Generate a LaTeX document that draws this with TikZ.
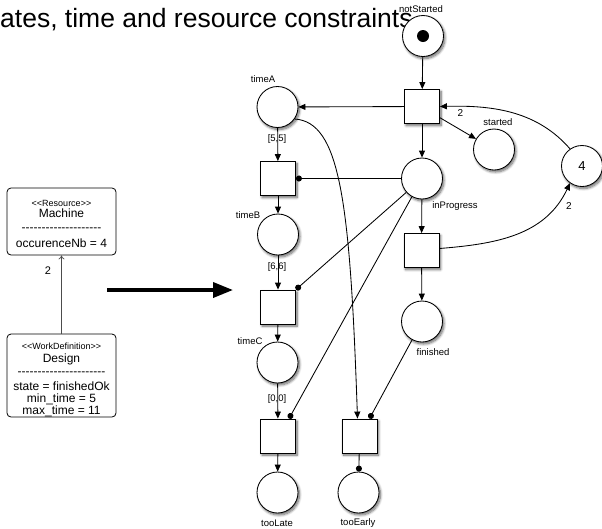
\documentclass[tikz,border=0pt]{standalone}
\usepackage{fontspec}
\setmainfont{Liberation Sans}
\usetikzlibrary{arrows.meta,shadows.blur}

\tikzset{
  soft/.style={blur shadow={shadow xshift=1.5pt,shadow yshift=-2pt,
      shadow blur radius=2.5pt,shadow blur steps=8,shadow opacity=60}},
  place/.style={circle,draw,line width=0.85pt,fill=white,minimum size=41pt,
      inner sep=0pt,soft},
  trans/.style={rectangle,draw,line width=0.85pt,fill=white,minimum width=35pt,
      minimum height=34pt,inner sep=0pt,soft},
  lbl/.style={inner sep=0pt,font=\fontsize{9.5}{11}\selectfont},
  arc/.style={draw,line width=0.85pt,-{Triangle[length=7pt,width=6pt]}},
  readarc/.style={draw,line width=0.85pt,-{Circle[length=6pt]}},
  umlbox/.style={draw,line width=0.8pt,rounded corners=4pt,minimum width=109pt,
      inner sep=0pt},
  stereo/.style={inner sep=0pt,anchor=base,font=\fontsize{9}{10}\selectfont},
  umltxt/.style={inner sep=0pt,anchor=base,font=\fontsize{12}{13}\selectfont},
}

\begin{document}
\begin{tikzpicture}[x=1pt,y=-1pt]
\useasboundingbox (0,0) rectangle (602,528);

% heading, partly cut at the left edge
\node[inner sep=0pt,anchor=base west,font=\fontsize{26.5}{29}\selectfont]
  (heading) at (0,27) {ates, time and resource constraints};

% ---------------- UML side ----------------
\node[umlbox,minimum height=67pt] (machine) at (61.5,221.5) {};
\node[stereo] (machineSt) at (61.5,206) {<{}<Resource>{}>};
\node[umltxt] (machineNm) at (61.5,217.6) {Machine};
\node[umltxt] (machineSep) at (61.5,231.5) {-{}-{}-{}-{}-{}-{}-{}-{}-{}-{}-{}-{}-{}-{}-{}-{}-{}-{}-{}-};
\node[umltxt] (machineAt) at (61.5,247.3) {occurenceNb = 4};

\node[umlbox,minimum height=83pt] (design) at (61.5,375.5) {};
\node[stereo] (designSt) at (61.5,349) {<{}<WorkDefinition>{}>};
\node[umltxt] (designNm) at (61.5,362.6) {Design};
\node[umltxt] (designSep) at (61.5,375.3) {-{}-{}-{}-{}-{}-{}-{}-{}-{}-{}-{}-{}-{}-{}-{}-{}-{}-{}-{}-{}-{}-};
\node[umltxt] (designA) at (61.5,390) {state = finishedOk};
\node[umltxt] (designB) at (61.5,402) {min\_time = 5};
\node[umltxt] (designC) at (61.5,414.3) {max\_time = 11};

\draw[line width=0.7pt,draw=black!70,-{To[length=4pt,width=6pt]}] (design) -- (machine);
\node[inner sep=0pt,font=\fontsize{11}{12}\selectfont] (useCount) at (48,271) {2};

% transformation arrow
\coordinate (bigFrom) at (107,290);
\coordinate (bigTo) at (233,290);
\draw[line width=3.6pt,-{Triangle[length=20pt,width=15pt]}] (bigFrom) -- (bigTo);

% ---------------- Petri net ----------------
\node[place] (notStarted) at (423,36) {};
\fill (notStarted) circle (6pt);
\node[trans] (T1) at (422,106.5) {};
\node[place] (inProgress) at (422,178.5) {};
\node[place] (started) at (494,149.5) {};
\node[place,font=\fontsize{13}{14}\selectfont] (res4) at (582,166) {4};
\node[trans] (Tend) at (421.5,250.5) {};
\node[place] (finished) at (422,321.5) {};

\node[place] (timeA) at (277.5,107) {};
\node[trans] (tA) at (278,178.5) {};
\node[place] (timeB) at (278,234.5) {};
\node[trans] (tB) at (278,307) {};
\node[place] (timeC) at (277.5,362.5) {};
\node[trans] (tC) at (278,436) {};
\node[place] (tooLate) at (277.5,492.5) {};
\node[trans] (tD) at (359.5,436) {};
\node[place] (tooEarly) at (358.5,492.5) {};

% place names
\node[lbl] (lNotStarted) at (421,9.5) {notStarted};
\node[lbl] (lStarted) at (498,122) {started};
\node[lbl] (lInProgress) at (455,206) {inProgress};
\node[lbl] (lFinished) at (433,352) {finished};
\node[lbl] (lTimeA) at (263,79) {timeA};
\node[lbl] (lTimeB) at (248,215) {timeB};
\node[lbl] (lTimeC) at (250,341) {timeC};
\node[lbl] (lTooLate) at (277,523) {tooLate};
\node[lbl] (lTooEarly) at (358,523) {tooEarly};

% time intervals
\node[lbl] (iA) at (277,139) {[5,5]};
\node[lbl] (iB) at (277,267) {[6,6]};
\node[lbl] (iC) at (277,399) {[0,0]};

% arc weights
\node[lbl,font=\fontsize{10}{11}\selectfont] (w1) at (460.5,113) {2};
\node[lbl,font=\fontsize{10}{11}\selectfont] (w2) at (569,206) {2};

% main flow
\draw[arc] (notStarted) -- (T1);
\draw[arc] (T1) -- (inProgress);
\draw[arc] (inProgress) -- (Tend);
\draw[arc] (Tend) -- (finished);
\draw[arc] (T1) -- (timeA);
\draw[arc] (T1.-32) -- (started);
\draw[arc] (res4.125) .. controls (538,112) and (495,105) .. (T1.east);
\draw[arc] ([yshift=2pt]Tend.east) .. controls (495,244) and (545,236) .. (res4.235);

% timer chain
\draw[arc] (timeA) -- (tA);
\draw[arc] (tA) -- (timeB);
\draw[arc] (timeB) -- (tB);
\draw[arc] (tB) -- (timeC);
\draw[arc] (timeC) -- (tC);
\draw[arc] (tC) -- (tooLate);
\draw[arc] (timeA.-35) .. controls (340,122) and (350,200) .. ([xshift=-2pt]tD.north);

% read arcs
\draw[readarc] (inProgress) -- (tA);
\draw[readarc] (inProgress) -- (tB.north east);
\draw[readarc] (inProgress) -- ([xshift=11pt]tC.north);
\draw[readarc] (finished) -- ([xshift=10pt]tD.north);
\draw[readarc] (tD) -- (tooEarly);
\end{tikzpicture}
\end{document}
